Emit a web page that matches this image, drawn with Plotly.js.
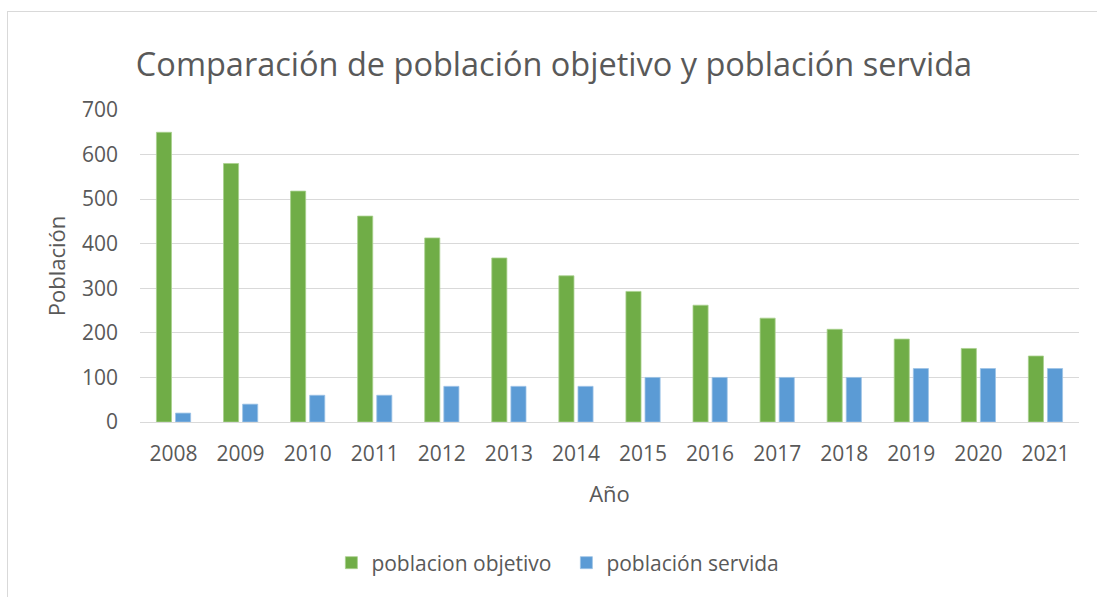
<!DOCTYPE html>
<html>
<head>
<meta charset="utf-8">
<script src="https://cdn.plot.ly/plotly-3.0.1.min.js"></script>
<style>
  html, body { margin: 0; padding: 0; background: #ffffff; overflow: hidden; width: 1097px; height: 597px; }
  #frame { position: absolute; left: 7px; top: 11px; width: 1200px; height: 700px; border: 1px solid #D9D9D9; box-sizing: border-box; }
  #chart { position: absolute; left: 0; top: 0; width: 1097px; height: 597px; }
</style>
</head>
<body>
<div id="frame"></div>
<div id="chart"></div>
<script>
const years = ["2008","2009","2010","2011","2012","2013","2014","2015","2016","2017","2018","2019","2020","2021"];
const poblacionObjetivo = [650, 580, 518, 462, 413, 368, 328, 293, 262, 233, 208, 186, 165, 148];
const poblacionServida = [20, 40, 60, 60, 80, 80, 80, 100, 100, 100, 100, 120, 120, 120];
const seriesNames = ["poblacion objetivo", "población servida"];
const chartTitle = "Comparación de población objetivo y población servida";
const xTitle = "Año";
const yTitle = "Población";

const FONT = "'Open Sans', 'Noto Sans', sans-serif";
const TXT = "#595959";

const traces = [
  {
    type: "bar", name: seriesNames[0], x: years, y: poblacionObjetivo,
    marker: { color: "#70AD47", line: { color: "#A9D18E", width: 0.8 } },
    hoverinfo: "x+y+name"
  },
  {
    type: "bar", name: seriesNames[1], x: years, y: poblacionServida,
    marker: { color: "#5B9BD5", line: { color: "#9DC3E6", width: 0.8 } },
    hoverinfo: "x+y+name"
  }
];

const layout = {
  width: 1097, height: 597,
  paper_bgcolor: "rgba(0,0,0,0)", plot_bgcolor: "rgba(0,0,0,0)",
  margin: { l: 140, r: 18, t: 110, b: 175, pad: 0 },
  font: { family: FONT, color: TXT, size: 21 },
  title: {
    text: chartTitle, font: { family: FONT, size: 32.5, color: TXT },
    x: 554 / 1097, xanchor: "center", xref: "container",
    y: 1 - 65 / 597, yanchor: "middle", yref: "container"
  },
  barmode: "group", bargap: 0.43, bargroupgap: 0.21,
  xaxis: {
    type: "category", showgrid: false, showline: false, zeroline: false,
    ticks: "", tickfont: { family: FONT, size: 21, color: TXT },
    ticklabelstandoff: 17,
    title: { text: xTitle, font: { family: FONT, size: 22, color: TXT }, standoff: 20 }
  },
  yaxis: {
    range: [0, 700], dtick: 100, tick0: 0, showgrid: true,
    gridcolor: "#D9D9D9", gridwidth: 1.3,
    zeroline: true, zerolinecolor: "#D9D9D9", zerolinewidth: 1.3,
    showline: false, ticks: "",
    tickfont: { family: FONT, size: 21, color: TXT },
    ticklabelstandoff: 21,
    title: { text: yTitle, font: { family: FONT, size: 22, color: TXT }, standoff: 10 }
  },
  showlegend: true,
  legend: {
    orientation: "h", xref: "container", yref: "container",
    x: 0.5163, xanchor: "center", y: 1 - 563 / 597, yanchor: "middle",
    entrywidth: 190, entrywidthmode: "pixels",
    font: { family: FONT, size: 21, color: TXT },
    itemclick: false, itemdoubleclick: false
  }
};

Plotly.newPlot("chart", traces, layout, { displayModeBar: false, staticPlot: false });
</script>
</body>
</html>
